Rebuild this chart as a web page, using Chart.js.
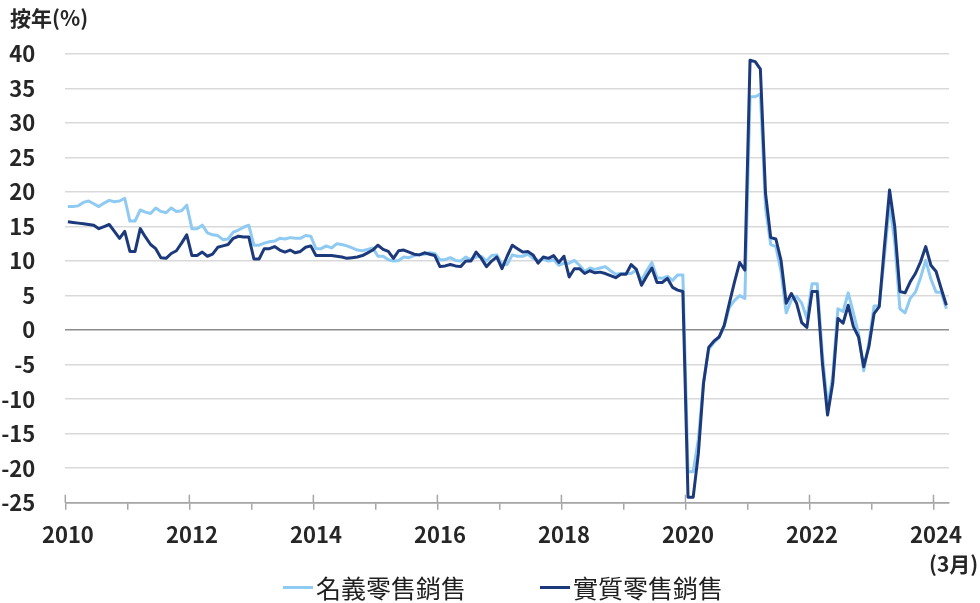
<!DOCTYPE html>
<html lang="zh-Hant">
<head>
<meta charset="UTF-8">
<title>零售銷售按年變化</title>
<style>
    body {
        margin: 0;
        background: #fff;
        font-family: "Noto Sans CJK TC", sans-serif;
        color: #262626;
    }
    .wrap {
        position: relative;
        width: 980px;
        height: 603px;
    }
    .unit {
        position: absolute;
        left: 10px;
        top: 7px;
        font-size: 21px;
        line-height: 1;
        font-weight: 600;
    }
    .month-note {
        position: absolute;
        left: 929px;
        top: 553px;
        font-size: 21px;
        line-height: 1;
        font-weight: 600;
    }
    .legend-item {
        position: absolute;
        top: 575px;
        display: flex;
        align-items: center;
        font-size: 25px;
        line-height: 1;
        color: #1f1f1f;
    }
    .legend-item .swatch {
        width: 30px;
        height: 3px;
        margin-right: 3px;
    }
</style>
<script src="https://cdn.jsdelivr.net/npm/chart.js"></script>
</head>
<body>
<div class="wrap">
    <canvas id="salesChart"></canvas>
    <div class="unit">按年(%)</div>
    <div class="month-note">(3月)</div>
    <div class="legend-item" style="left:283px"><span class="swatch" style="background:#8ecaf1"></span>名義零售銷售</div>
    <div class="legend-item" style="left:540px"><span class="swatch" style="background:#1c3a7b"></span>實質零售銷售</div>
</div>
<script>
    // monthly, Jan 2010 - Mar 2024 (Jan/Feb reported together)
    const startYear = 2010;
    const months = [];
    for (let i = 0; i < 171; i++) {
        months.push((startYear + Math.floor(i / 12)) + '-' + (i % 12 + 1));
    }
    const yearLabels = ['2010', '2012', '2014', '2016', '2018', '2020', '2022', '2024'];

    // 名義零售銷售 (%)
    const nominalSales = [
        17.9, 17.9, 18.0, 18.5, 18.7, 18.3, 17.9, 18.4, 18.8, 18.6, 18.7, 19.1,
        15.8, 15.8, 17.4, 17.1, 16.9, 17.7, 17.2, 17.0, 17.7, 17.2, 17.3, 18.1,
        14.7, 14.7, 15.2, 14.1, 13.8, 13.7, 13.1, 13.2, 14.2, 14.5, 14.9, 15.2,
        12.3, 12.3, 12.6, 12.8, 12.9, 13.3, 13.2, 13.4, 13.3, 13.3, 13.7, 13.6,
        11.8, 11.8, 12.2, 11.9, 12.5, 12.4, 12.2, 11.9, 11.6, 11.5, 11.7, 11.9,
        10.7, 10.7, 10.2, 10.0, 10.1, 10.6, 10.5, 10.8, 10.9, 11.0, 11.2, 11.1,
        10.2, 10.2, 10.5, 10.1, 10.0, 10.6, 10.2, 10.6, 10.7, 10.0, 10.8, 10.9,
        9.5, 9.5, 10.9, 10.7, 10.7, 11.0, 10.4, 10.1, 10.3, 10.0, 10.2, 9.4,
        9.7, 9.7, 10.1, 9.4, 8.5, 9.0, 8.8, 9.0, 9.2, 8.6, 8.1, 8.2,
        8.2, 8.2, 8.7, 7.2, 8.6, 9.8, 7.6, 7.5, 7.8, 7.2, 8.0, 8.0,
        -20.5, -20.5, -15.8, -7.5, -2.8, -1.8, -1.1, 0.5, 3.3, 4.3, 5.0, 4.6,
        33.8, 33.8, 34.2, 17.7, 12.4, 12.1, 8.5, 2.5, 4.4, 4.9, 3.9, 1.7,
        6.7, 6.7, -3.5, -11.1, -6.7, 3.1, 2.7, 5.4, 2.5, -0.5, -5.9, -1.8,
        3.5, 3.5, 10.6, 18.4, 12.7, 3.1, 2.5, 4.6, 5.5, 7.6, 10.1, 7.4,
        5.5, 5.5, 3.1
    ];

    // 實質零售銷售 (%)
    const realSales = [
        15.7, 15.6, 15.5, 15.4, 15.3, 15.2, 14.7, 15.0, 15.3, 14.3, 13.3, 14.3,
        11.4, 11.4, 14.7, 13.5, 12.4, 11.8, 10.5, 10.4, 11.1, 11.5, 12.6, 13.8,
        10.8, 10.8, 11.3, 10.7, 11.0, 12.0, 12.2, 12.4, 13.3, 13.6, 13.5, 13.5,
        10.3, 10.3, 11.8, 11.8, 12.1, 11.6, 11.3, 11.6, 11.2, 11.4, 12.0, 12.2,
        10.8, 10.8, 10.8, 10.8, 10.7, 10.6, 10.4, 10.5, 10.6, 10.8, 11.2, 11.6,
        12.3, 11.7, 11.4, 10.4, 11.5, 11.6, 11.3, 11.0, 10.9, 11.2, 11.0, 10.8,
        9.2, 9.3, 9.5, 9.3, 9.2, 10.0, 10.0, 11.3, 10.4, 9.2, 10.0, 10.6,
        8.9, 10.7, 12.3, 11.8, 11.3, 11.4, 10.9, 9.7, 10.6, 10.4, 10.8, 9.8,
        10.7, 7.7, 8.9, 8.9, 8.2, 8.6, 8.3, 8.4, 8.2, 7.9, 7.6, 8.1,
        8.1, 9.5, 8.8, 6.5, 7.8, 9.0, 6.9, 6.9, 7.5, 6.2, 5.8, 5.6,
        -24.2, -24.2, -17.9, -7.7, -2.5, -1.6, -1.0, 0.7, 3.9, 7.0, 9.8, 8.7,
        39.1, 38.9, 37.8, 19.8, 13.4, 13.2, 10.1, 3.9, 5.3, 3.9, 1.1, 0.4,
        5.6, 5.6, -4.8, -12.3, -7.7, 1.7, 1.0, 3.6, 0.5, -1.0, -5.3, -2.4,
        2.4, 3.4, 12.1, 20.3, 15.0, 5.6, 5.4, 7.0, 8.2, 9.9, 12.1, 9.4,
        8.5, 6.0, 3.6
    ];

    const axisGray = '#a6a6a6';
    const tickFont = { family: '"Noto Sans CJK TC", sans-serif', size: 22, weight: '600' };

    // even years get a tick that also crosses above the axis line
    const yearTicks = {
        id: 'yearTicks',
        afterDraw(chart) {
            const xs = chart.scales.x;
            const ctx = chart.ctx;
            const bottom = chart.chartArea.bottom;
            const half = (xs.getPixelForValue(1) - xs.getPixelForValue(0)) / 2;
            ctx.save();
            ctx.strokeStyle = axisGray;
            ctx.lineWidth = 1.5;
            months.forEach((m, i) => {
                if (i % 24 !== 0) return;
                const px = xs.getPixelForValue(i) - half;
                ctx.beginPath();
                ctx.moveTo(px, bottom - 8);
                ctx.lineTo(px, bottom);
                ctx.stroke();
            });
            ctx.restore();
        }
    };

    new Chart(document.getElementById('salesChart'), {
        type: 'line',
        data: {
            labels: months,
            datasets: [{
                label: '名義零售銷售',
                data: nominalSales,
                borderColor: '#8ecaf1',
                backgroundColor: '#8ecaf1',
                borderWidth: 3,
                pointRadius: 0,
                borderJoinStyle: 'round',
                order: 1
            }, {
                label: '實質零售銷售',
                data: realSales,
                borderColor: '#1c3a7b',
                backgroundColor: '#1c3a7b',
                borderWidth: 3,
                pointRadius: 0,
                borderJoinStyle: 'round',
                order: 0
            }]
        },
        options: {
            responsive: true,
            maintainAspectRatio: false,
            animation: false,
            layout: { padding: { top: 54, right: 31, left: 0, bottom: 0 } },
            plugins: {
                legend: { display: false },
                tooltip: { enabled: false }
            },
            scales: {
                x: {
                    offset: true,
                    grid: {
                        offset: true,
                        drawOnChartArea: false,
                        tickLength: 7,
                        lineWidth: 1.5,
                        color: c => (c.tick && c.index % 12 === 0) ? axisGray : 'rgba(0,0,0,0)'
                    },
                    border: { color: axisGray, width: 1.5 },
                    ticks: {
                        autoSkip: false,
                        maxRotation: 0,
                        padding: 12,
                        color: '#262626',
                        font: tickFont,
                        callback: (v, i) => i % 24 === 0 ? yearLabels[i / 24] : ''
                    },
                    afterFit: s => { s.height = 100.3; }
                },
                y: {
                    min: -25,
                    max: 40,
                    ticks: { stepSize: 5, padding: 30, color: '#262626', font: tickFont },
                    grid: {
                        drawTicks: false,
                        lineWidth: 1.5,
                        color: c => c.tick.value === 0 ? '#8c8c8c' : (c.tick.value === -25 ? axisGray : '#d9d9d9')
                    },
                    border: { display: false },
                    afterFit: s => { s.width = 65.3; }
                }
            }
        },
        plugins: [yearTicks]
    });
</script>
</body>
</html>
